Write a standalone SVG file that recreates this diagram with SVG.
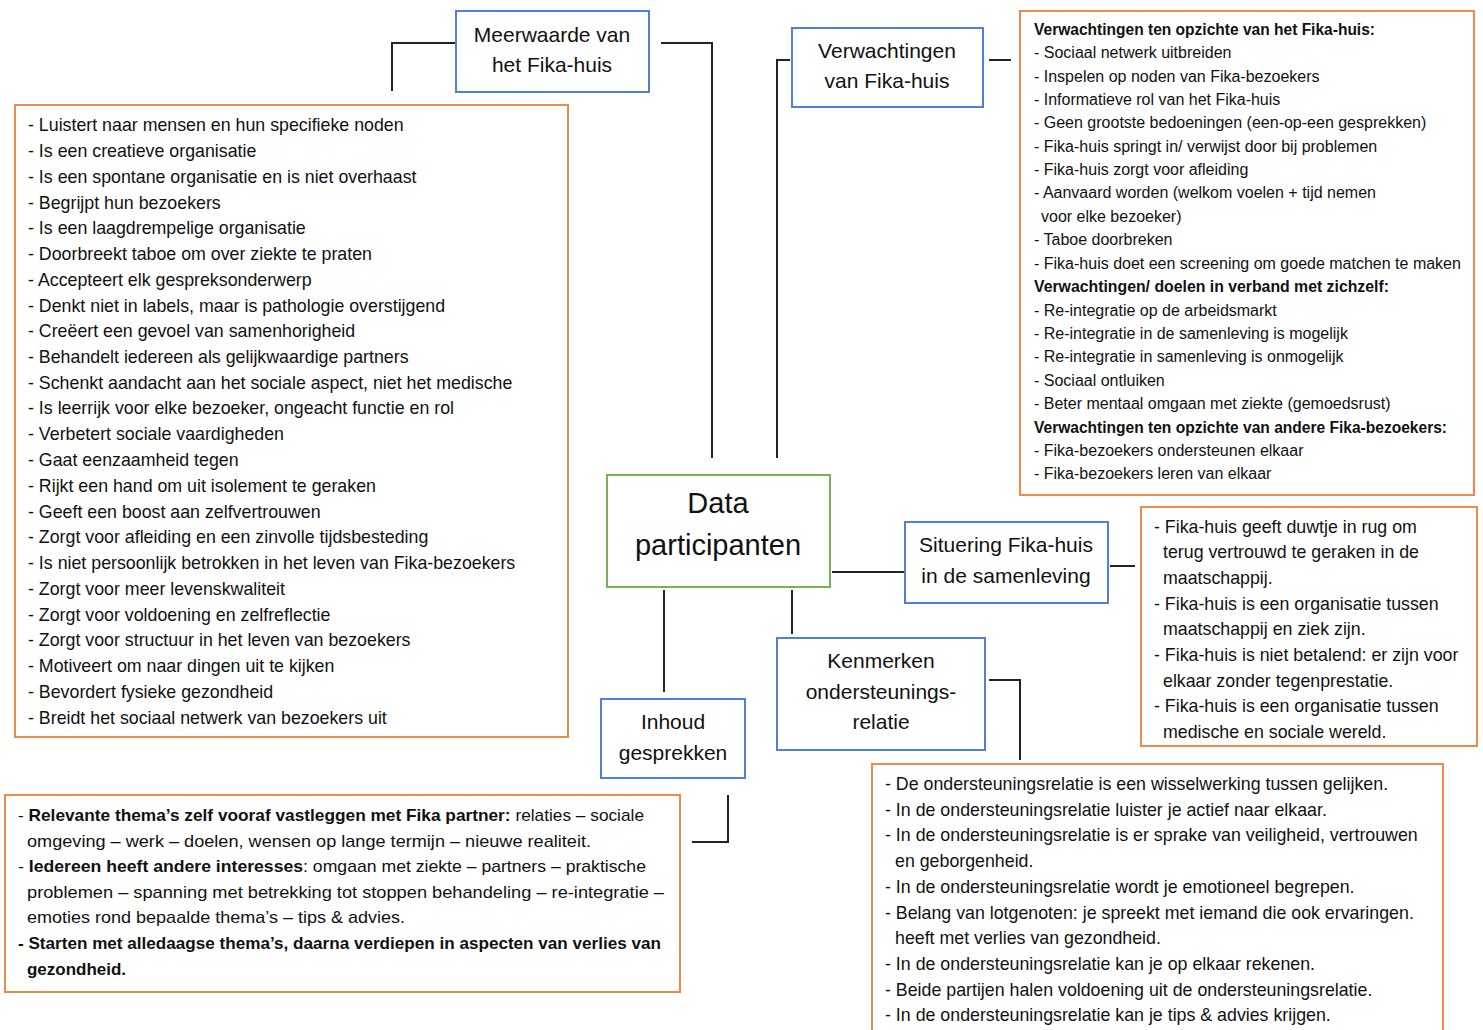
<svg xmlns="http://www.w3.org/2000/svg" width="1483" height="1030" viewBox="0 0 1483 1030">
<style>
text{font-family:"Liberation Sans",Arial,sans-serif;fill:#111}
.node{fill:#fff;stroke:#4F7FD6;stroke-width:2}
.main{fill:#fff;stroke:#77B255;stroke-width:2}
.box{fill:#fff;stroke:#F08A4B;stroke-width:2}
.nt{font-size:21px;text-anchor:middle;dominant-baseline:central}
.l16{font-size:17.8px;dominant-baseline:central}
.l15{font-size:16px;dominant-baseline:central}
.l165{font-size:17.8px;dominant-baseline:central}
.l17{font-size:17px;dominant-baseline:central}
.b{font-weight:bold}
#connectors path{fill:none;stroke:#222;stroke-width:2}
</style>
<rect width="1483" height="1030" fill="#fff"/>
<g id="connectors">
<path d="M455,43 H392 V91"/>
<path d="M661,43 H712 V458"/>
<path d="M790,60 H777 V458"/>
<path d="M989,60 H1011"/>
<path d="M832,572 H905"/>
<path d="M1110,566 H1135"/>
<path d="M792,590 V634"/>
<path d="M989,680 H1020 V760"/>
<path d="M664,590 V692"/>
<path d="M728,795 V842 H692"/>
</g>
<g id="meerwaarde">
<rect class="node" x="456" y="11" width="193" height="81"/>
<text class="nt" x="552" y="34">Meerwaarde van</text>
<text class="nt" x="552" y="64">het Fika-huis</text>
</g>
<g id="meerwaarde-list">
<rect class="box" x="15" y="105" width="553" height="632"/>
<g class="l16">
<text x="28" y="125">- Luistert naar mensen en hun specifieke noden</text>
<text x="28" y="151">- Is een creatieve organisatie</text>
<text x="28" y="177">- Is een spontane organisatie en is niet overhaast</text>
<text x="28" y="203">- Begrijpt hun bezoekers</text>
<text x="28" y="228">- Is een laagdrempelige organisatie</text>
<text x="28" y="254">- Doorbreekt taboe om over ziekte te praten</text>
<text x="28" y="280">- Accepteert elk gespreksonderwerp</text>
<text x="28" y="306">- Denkt niet in labels, maar is pathologie overstijgend</text>
<text x="28" y="331">- Creëert een gevoel van samenhorigheid</text>
<text x="28" y="357">- Behandelt iedereen als gelijkwaardige partners</text>
<text x="28" y="383">- Schenkt aandacht aan het sociale aspect, niet het medische</text>
<text x="28" y="408">- Is leerrijk voor elke bezoeker, ongeacht functie en rol</text>
<text x="28" y="434">- Verbetert sociale vaardigheden</text>
<text x="28" y="460">- Gaat eenzaamheid tegen</text>
<text x="28" y="486">- Rijkt een hand om uit isolement te geraken</text>
<text x="28" y="512">- Geeft een boost aan zelfvertrouwen</text>
<text x="28" y="537">- Zorgt voor afleiding en een zinvolle tijdsbesteding</text>
<text x="28" y="563">- Is niet persoonlijk betrokken in het leven van Fika-bezoekers</text>
<text x="28" y="589">- Zorgt voor meer levenskwaliteit</text>
<text x="28" y="615">- Zorgt voor voldoening en zelfreflectie</text>
<text x="28" y="640">- Zorgt voor structuur in het leven van bezoekers</text>
<text x="28" y="666">- Motiveert om naar dingen uit te kijken</text>
<text x="28" y="692">- Bevordert fysieke gezondheid</text>
<text x="28" y="718">- Breidt het sociaal netwerk van bezoekers uit</text>
</g>
</g>
<g id="verwachtingen">
<rect class="node" x="792" y="28" width="191" height="79"/>
<text class="nt" x="887" y="50">Verwachtingen</text>
<text class="nt" x="887" y="80">van Fika-huis</text>
</g>
<g id="verwachtingen-list">
<rect class="box" x="1020" y="11" width="454" height="484"/>
<g class="l15">
<text x="1034" y="29" class="b" textLength="341" lengthAdjust="spacingAndGlyphs">Verwachtingen ten opzichte van het Fika-huis:</text>
<text x="1034" y="52">- Sociaal netwerk uitbreiden</text>
<text x="1034" y="76">- Inspelen op noden van Fika-bezoekers</text>
<text x="1034" y="99">- Informatieve rol van het Fika-huis</text>
<text x="1034" y="122">- Geen grootste bedoeningen (een-op-een gesprekken)</text>
<text x="1034" y="146">- Fika-huis springt in/ verwijst door bij problemen</text>
<text x="1034" y="169">- Fika-huis zorgt voor afleiding</text>
<text x="1034" y="192">- Aanvaard worden (welkom voelen + tijd nemen</text>
<text x="1041" y="216">voor elke bezoeker)</text>
<text x="1034" y="239">- Taboe doorbreken</text>
<text x="1034" y="263">- Fika-huis doet een screening om goede matchen te maken</text>
<text x="1034" y="286" class="b" textLength="355" lengthAdjust="spacingAndGlyphs">Verwachtingen/ doelen in verband met zichzelf:</text>
<text x="1034" y="310">- Re-integratie op de arbeidsmarkt</text>
<text x="1034" y="333">- Re-integratie in de samenleving is mogelijk</text>
<text x="1034" y="356">- Re-integratie in samenleving is onmogelijk</text>
<text x="1034" y="380">- Sociaal ontluiken</text>
<text x="1034" y="403">- Beter mentaal omgaan met ziekte (gemoedsrust)</text>
<text x="1034" y="427" class="b" textLength="413" lengthAdjust="spacingAndGlyphs">Verwachtingen ten opzichte van andere Fika-bezoekers:</text>
<text x="1034" y="450">- Fika-bezoekers ondersteunen elkaar</text>
<text x="1034" y="473">- Fika-bezoekers leren van elkaar</text>
</g>
</g>
<g id="data-participanten">
<rect class="main" x="607" y="475" width="223" height="112"/>
<text class="nt" x="718" y="503" style="font-size:29px">Data</text>
<text class="nt" x="718" y="545" style="font-size:29px">participanten</text>
</g>
<g id="situering">
<rect class="node" x="905" y="522" width="203" height="81"/>
<text class="nt" x="1006" y="544">Situering Fika-huis</text>
<text class="nt" x="1006" y="575">in de samenleving</text>
</g>
<g id="situering-list">
<rect class="box" x="1141" y="507" width="336" height="239"/>
<g class="l165">
<text x="1154" y="527">- Fika-huis geeft duwtje in rug om</text>
<text x="1163" y="552">terug vertrouwd te geraken in de</text>
<text x="1163" y="578">maatschappij.</text>
<text x="1154" y="604">- Fika-huis is een organisatie tussen</text>
<text x="1163" y="629">maatschappij en ziek zijn.</text>
<text x="1154" y="655">- Fika-huis is niet betalend: er zijn voor</text>
<text x="1163" y="681">elkaar zonder tegenprestatie.</text>
<text x="1154" y="706">- Fika-huis is een organisatie tussen</text>
<text x="1163" y="732">medische en sociale wereld.</text>
</g>
</g>
<g id="kenmerken">
<rect class="node" x="777" y="638" width="208" height="112"/>
<text class="nt" x="881" y="660">Kenmerken</text>
<text class="nt" x="881" y="691">ondersteunings-</text>
<text class="nt" x="881" y="721">relatie</text>
</g>
<g id="kenmerken-list">
<rect class="box" x="872" y="764" width="571" height="280"/>
<g class="l16">
<text x="885" y="784">- De ondersteuningsrelatie is een wisselwerking tussen gelijken.</text>
<text x="885" y="810">- In de ondersteuningsrelatie luister je actief naar elkaar.</text>
<text x="885" y="835">- In de ondersteuningsrelatie is er sprake van veiligheid, vertrouwen</text>
<text x="895" y="861">en geborgenheid.</text>
<text x="885" y="887">- In de ondersteuningsrelatie wordt je emotioneel begrepen.</text>
<text x="885" y="913">- Belang van lotgenoten: je spreekt met iemand die ook ervaringen.</text>
<text x="895" y="938">heeft met verlies van gezondheid.</text>
<text x="885" y="964">- In de ondersteuningsrelatie kan je op elkaar rekenen.</text>
<text x="885" y="990">- Beide partijen halen voldoening uit de ondersteuningsrelatie.</text>
<text x="885" y="1015">- In de ondersteuningsrelatie kan je tips &amp; advies krijgen.</text>
</g>
</g>
<g id="inhoud">
<rect class="node" x="601" y="699" width="144" height="79"/>
<text class="nt" x="673" y="721">Inhoud</text>
<text class="nt" x="673" y="752">gesprekken</text>
</g>
<g id="inhoud-list">
<rect class="box" x="5" y="795" width="675" height="197"/>
<g class="l17">
<text x="18" y="815" textLength="626" lengthAdjust="spacingAndGlyphs">- <tspan class="b">Relevante thema’s zelf vooraf vastleggen met Fika partner:</tspan> relaties – sociale</text>
<text x="27" y="841" textLength="564" lengthAdjust="spacingAndGlyphs">omgeving – werk – doelen, wensen op lange termijn – nieuwe realiteit.</text>
<text x="18" y="866" textLength="628" lengthAdjust="spacingAndGlyphs">- <tspan class="b">Iedereen heeft andere interesses</tspan>: omgaan met ziekte – partners – praktische</text>
<text x="27" y="892" textLength="637" lengthAdjust="spacingAndGlyphs">problemen – spanning met betrekking tot stoppen behandeling – re-integratie –</text>
<text x="27" y="917" textLength="378" lengthAdjust="spacingAndGlyphs">emoties rond bepaalde thema’s – tips &amp; advies.</text>
<text x="18" y="943" textLength="643" lengthAdjust="spacingAndGlyphs" class="b">- Starten met alledaagse thema’s, daarna verdiepen in aspecten van verlies van</text>
<text x="27" y="969" class="b" textLength="99" lengthAdjust="spacingAndGlyphs">gezondheid.</text>
</g>
</g>
</svg>
